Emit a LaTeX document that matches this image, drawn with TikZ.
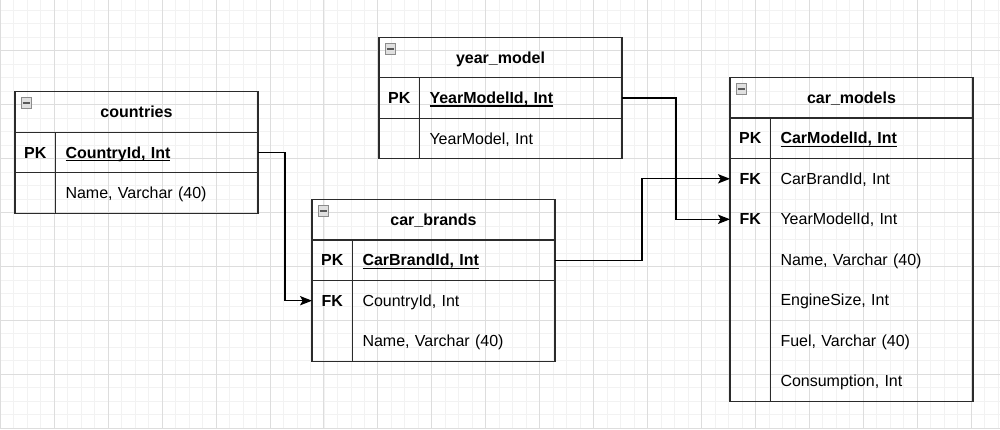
\documentclass[tikz,border=0pt]{standalone}
\usepackage{xcolor}
\usepackage{fontspec}
\setmainfont{Liberation Sans}
\usepackage{tikz}
\usetikzlibrary{positioning, arrows.meta}

\definecolor{tabline}{HTML}{2B2B2B}
\definecolor{minorgrid}{HTML}{F2F2F2}
\definecolor{majorgrid}{HTML}{DDDDDD}
\newcommand{\pkfield}[1]{\setbox0\hbox{\bfseries #1}\rlap{\rule[-2.3pt]{\wd0}{0.9pt}}\box0}
\newcommand{\minusbar}{{\color{black!65}\rule{5.25pt}{1.5pt}}}

\begin{document}
\begin{tikzpicture}[
  x=0.75pt, y=-0.75pt,
  minorline/.style={draw=minorgrid, line width=0.6pt},
  majorline/.style={draw=majorgrid, line width=0.7pt},
  header/.style={draw=tabline, line width=1pt, outer sep=0pt, inner sep=0pt,
                 minimum width=182.25pt, minimum height=30.375pt,
                 text height=8.8pt, text depth=0.4pt,
                 font=\fontsize{12}{14}\selectfont\bfseries},
  keycell/.style={draw=tabline, line width=1pt, outer sep=0pt, inner sep=0pt,
                  minimum width=30.375pt, minimum height=30.375pt,
                  text height=8.8pt, text depth=0.4pt,
                  font=\fontsize{12}{14}\selectfont\bfseries},
  fieldcell/.style={draw=tabline, line width=1pt, outer sep=0pt,
                    inner xsep=7.5pt, inner ysep=0pt, text width=136.875pt,
                    align=left, minimum height=30.375pt,
                    text height=8.8pt, text depth=0.4pt,
                    font=\fontsize{12}{14}\selectfont},
  blank/.style={draw=none},
  frame/.style={draw=tabline, line width=1pt},
  collapse/.style={draw=black!45, fill=black!12, line width=0.5pt,
                   inner sep=0pt, outer sep=0pt, minimum size=8pt},
  fk/.style={-{Stealth[length=9pt, width=7pt, inset=2pt]},
             line width=0.9pt, draw=black},
]
\path[use as bounding box, fill=white] (0,0) rectangle (1000,429);
\foreach \i in {0,...,74}
  \draw[minorline] ({0.37+13.483*\i},0) -- ({0.37+13.483*\i},429);
\foreach \j in {0,...,31}
  \draw[minorline] (0,{10.25+13.483*\j}) -- (1000,{10.25+13.483*\j});
\foreach \i in {0,...,18}
  \draw[majorline] ({0.37+53.93*\i},0) -- ({0.37+53.93*\i},429);
\foreach \j in {0,...,7}
  \draw[majorline] (0,{50.7+53.93*\j}) -- (1000,{50.7+53.93*\j});

\node[header] (countries) at (136.5,112) {countries};
\node[collapse, below right=4.5pt and 4.5pt of countries.north west] (countries-btn) {\minusbar};
\node[keycell, below right=0pt and 0pt of countries.south west] (countries-pk) {PK};
\node[fieldcell, right=0pt of countries-pk] (countries-id) {\pkfield{CountryId, Int}};
\node[keycell, blank, below=0pt of countries-pk] (countries-k1) {};
\node[fieldcell, blank, right=0pt of countries-k1] (countries-name) {Name, Varchar (40)};

\node[header] (year) at (500.5,57.5) {year\_model};
\node[collapse, below right=4.5pt and 4.5pt of year.north west] (year-btn) {\minusbar};
\node[keycell, below right=0pt and 0pt of year.south west] (year-pk) {PK};
\node[fieldcell, right=0pt of year-pk] (year-id) {\pkfield{YearModelId, Int}};
\node[keycell, blank, below=0pt of year-pk] (year-k1) {};
\node[fieldcell, blank, right=0pt of year-k1] (year-value) {YearModel, Int};

\node[header] (brands) at (433.5,219.7) {car\_brands};
\node[collapse, below right=4.5pt and 4.5pt of brands.north west] (brands-btn) {\minusbar};
\node[keycell, below right=0pt and 0pt of brands.south west] (brands-pk) {PK};
\node[fieldcell, right=0pt of brands-pk] (brands-id) {\pkfield{CarBrandId, Int}};
\node[keycell, blank, below=0pt of brands-pk] (brands-k1) {FK};
\node[fieldcell, blank, right=0pt of brands-k1] (brands-country) {CountryId, Int};
\node[keycell, blank, below=0pt of brands-k1] (brands-k2) {};
\node[fieldcell, blank, right=0pt of brands-k2] (brands-name) {Name, Varchar (40)};

\node[header] (models) at (851.5,97.8) {car\_models};
\node[collapse, below right=4.5pt and 4.5pt of models.north west] (models-btn) {\minusbar};
\node[keycell, below right=0pt and 0pt of models.south west] (models-pk) {PK};
\node[fieldcell, right=0pt of models-pk] (models-id) {\pkfield{CarModelId, Int}};
\node[keycell, blank, below=0pt of models-pk] (models-k1) {FK};
\node[fieldcell, blank, right=0pt of models-k1] (models-brand) {CarBrandId, Int};
\node[keycell, blank, below=0pt of models-k1] (models-k2) {FK};
\node[fieldcell, blank, right=0pt of models-k2] (models-year) {YearModelId, Int};
\node[keycell, blank, below=0pt of models-k2] (models-k3) {};
\node[fieldcell, blank, right=0pt of models-k3] (models-name) {Name, Varchar (40)};
\node[keycell, blank, below=0pt of models-k3] (models-k4) {};
\node[fieldcell, blank, right=0pt of models-k4] (models-engine) {EngineSize, Int};
\node[keycell, blank, below=0pt of models-k4] (models-k5) {};
\node[fieldcell, blank, right=0pt of models-k5] (models-fuel) {Fuel, Varchar (40)};
\node[keycell, blank, below=0pt of models-k5] (models-k6) {};
\node[fieldcell, blank, right=0pt of models-k6] (models-cons) {Consumption, Int};

\draw[frame] (countries-k1.north west) rectangle (countries-name.south east);
\draw[frame] (countries-k1.north east) -- (countries-k1.south east);
\draw[frame] (year-k1.north west) rectangle (year-value.south east);
\draw[frame] (year-k1.north east) -- (year-k1.south east);
\draw[frame] (brands-k1.north west) rectangle (brands-name.south east);
\draw[frame] (brands-k1.north east) -- (brands-k2.south east);
\draw[frame] (models-k1.north west) rectangle (models-cons.south east);
\draw[frame] (models-k1.north east) -- (models-k6.south east);

\draw[fk] (countries-id.east) -- ++(27,0) |- (brands-k1.west);
\draw[fk] (brands-id.east) -- ++(87,0) |- (models-k1.west);
\draw[fk] (year-id.east) -- ++(54,0) |- (models-k2.west);
\end{tikzpicture}
\end{document}
